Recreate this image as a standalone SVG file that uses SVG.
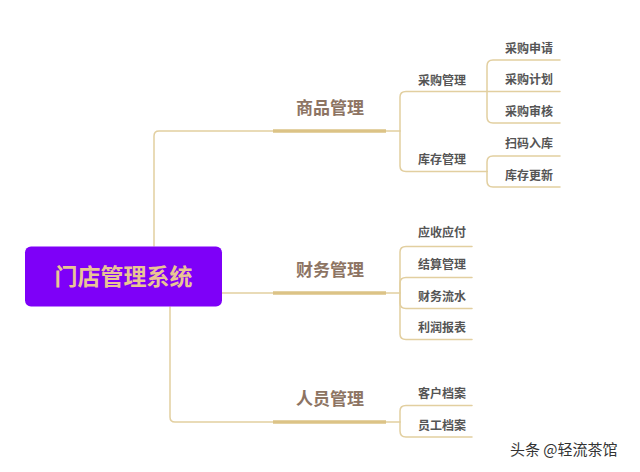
<svg xmlns="http://www.w3.org/2000/svg" width="640" height="472" viewBox="0 0 640 472">
<style>
.ln{fill:none;stroke:#e2cfa0;stroke-width:1.5;stroke-linecap:round}
.bar{fill:none;stroke:#dcc386;stroke-width:3.5;stroke-linecap:butt}
.root{font-family:"Noto Sans CJK SC","Noto Sans",sans-serif;font-weight:bold;font-size:23px;fill:#e9c594;text-anchor:middle}
.br{font-family:"Noto Sans CJK SC","Noto Sans",sans-serif;font-weight:bold;font-size:17px;fill:#8d7463;text-anchor:middle}
.l2{font-family:"Noto Sans CJK SC","Noto Sans",sans-serif;font-weight:bold;font-size:12px;fill:#555;text-anchor:middle}
.wm{font-family:"Noto Sans CJK SC","Noto Sans",sans-serif;font-size:15px;fill:#333;stroke:#fff;stroke-width:2.5;paint-order:stroke}
</style>
<rect width="640" height="472" fill="#fff"/>
<g id="connectors">
<path class="ln" d="M154,246 V136 Q154,131 159,131 H400"/>
<path class="ln" d="M222,293 H400"/>
<path class="ln" d="M170,307 V417 Q170,422 175,422 H400"/>
<path class="bar" d="M273,131 H386 M273,293 H386 M273,422 H386"/>
<path class="ln" d="M400,131 V97 Q400,91.5 406,91.5 H560"/>
<path class="ln" d="M400,131 V166 Q400,171.5 406,171.5 H487"/>
<path class="ln" d="M487,91.5 V66 Q487,60 493,60 H560"/>
<path class="ln" d="M487,91.5 V117 Q487,123 493,123 H560"/>
<path class="ln" d="M487,171.5 V162 Q487,156 493,156 H560"/>
<path class="ln" d="M487,171.5 V181 Q487,187 493,187 H560"/>
<path class="ln" d="M400,293 V252 Q400,246.5 406,246.5 H472"/>
<path class="ln" d="M400,293 V283 Q400,277.5 406,277.5 H472"/>
<path class="ln" d="M400,293 V303 Q400,308.5 406,308.5 H472"/>
<path class="ln" d="M400,293 V334 Q400,339.5 406,339.5 H472"/>
<path class="ln" d="M400,422 V411 Q400,405.5 406,405.5 H472"/>
<path class="ln" d="M400,422 V431 Q400,437 406,437 H472"/>
</g>
<g id="root"><rect x="25" y="246.5" width="197" height="60" rx="6" fill="#7e00f8"/><text class="root" x="123.5" y="285">门店管理系统</text></g>
<g id="b1"><text class="br" x="330" y="114">商品管理</text></g>
<g id="b2"><text class="br" x="330" y="276">财务管理</text></g>
<g id="b3"><text class="br" x="330" y="405">人员管理</text></g>
<g id="n-cggl"><text class="l2" x="442" y="84.5">采购管理</text></g>
<g id="n-kcgl"><text class="l2" x="442" y="164">库存管理</text></g>
<g id="n-cgsq"><text class="l2" x="529" y="52.5">采购申请</text></g>
<g id="n-cgjh"><text class="l2" x="529" y="84">采购计划</text></g>
<g id="n-cgsh"><text class="l2" x="529" y="115.5">采购审核</text></g>
<g id="n-smrk"><text class="l2" x="529" y="148">扫码入库</text></g>
<g id="n-kcgx"><text class="l2" x="529" y="179.5">库存更新</text></g>
<g id="n-ysyf"><text class="l2" x="442" y="236.5">应收应付</text></g>
<g id="n-jsgl"><text class="l2" x="442" y="268.5">结算管理</text></g>
<g id="n-cwls"><text class="l2" x="442" y="300.5">财务流水</text></g>
<g id="n-lrbb"><text class="l2" x="442" y="332">利润报表</text></g>
<g id="n-khda"><text class="l2" x="442" y="397.5">客户档案</text></g>
<g id="n-ygda"><text class="l2" x="442" y="429.5">员工档案</text></g>
<text class="wm" x="510" y="455">头条 @轻流茶馆</text>
</svg>
